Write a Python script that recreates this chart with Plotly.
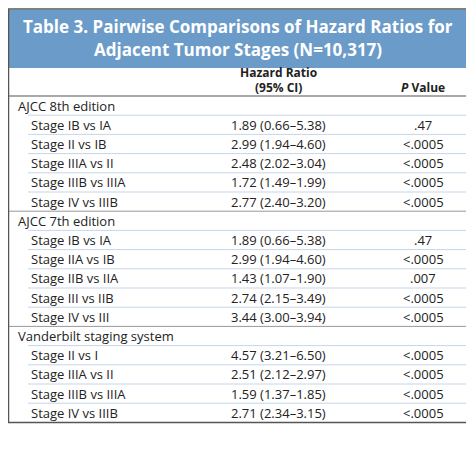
import plotly.graph_objects as go

# данные таблицы
title_lines = ["Table 3. Pairwise Comparisons of Hazard Ratios for", "Adjacent Tumor Stages (N=10,317)"]
groups = ["AJCC 8th edition", "AJCC 7th edition", "Vanderbilt staging system"]
comparisons = [
    ["Stage IB vs IA", "Stage II vs IB", "Stage IIIA vs II", "Stage IIIB vs IIIA", "Stage IV vs IIIB"],
    ["Stage IB vs IA", "Stage IIA vs IB", "Stage IIB vs IIA", "Stage III vs IIB", "Stage IV vs III"],
    ["Stage II vs I", "Stage IIIA vs II", "Stage IIIB vs IIIA", "Stage IV vs IIIB"],
]
hazard_ratios = [
    ["1.89 (0.66–5.38)", "2.99 (1.94–4.60)", "2.48 (2.02–3.04)", "1.72 (1.49–1.99)", "2.77 (2.40–3.20)"],
    ["1.89 (0.66–5.38)", "2.99 (1.94–4.60)", "1.43 (1.07–1.90)", "2.74 (2.15–3.49)", "3.44 (3.00–3.94)"],
    ["4.57 (3.21–6.50)", "2.51 (2.12–2.97)", "1.59 (1.37–1.85)", "2.71 (2.34–3.15)"],
]
p_values = [
    [".47", "<.0005", "<.0005", "<.0005", "<.0005"],
    [".47", "<.0005", ".007", "<.0005", "<.0005"],
    ["<.0005", "<.0005", "<.0005", "<.0005"],
]

W, H = 474, 450
FONT = "Open Sans"
fig = go.Figure()
shapes = []
ann = []

# заголовок
shapes.append(dict(type="rect", x0=0, x1=461, y0=2, y1=60, fillcolor="#6b9bc9", line_width=0))
ann.append(dict(x=230, y=18, text="<b>" + title_lines[0] + "</b>", font=dict(size=17, color="white", family=FONT)))
ann.append(dict(x=230, y=41, text="<b>" + title_lines[1] + "</b>", font=dict(size=17, color="white", family=FONT)))
ann.append(dict(x=270, y=64, text="<b>Hazard Ratio</b>", font=dict(size=12, color="#222", family=FONT)))
ann.append(dict(x=270, y=79, text="<b>(95% CI)</b>", font=dict(size=12, color="#222", family=FONT)))
ann.append(dict(x=415, y=79, text="<b><i>P</i> Value</b>", font=dict(size=12, color="#222", family=FONT)))
shapes.append(dict(type="line", x0=0, x1=461, y0=88, y1=88, line=dict(color="#555", width=1.2)))

y = 88
step = 19.2
tf = dict(size=13, color="#222", family=FONT)
for gi, g in enumerate(groups):
    if gi > 0:
        shapes.append(dict(type="line", x0=0, x1=461, y0=y, y1=y, line=dict(color="#999", width=1)))
    ann.append(dict(x=8, y=y + step / 2, text=g, xanchor="left", font=tf))
    y += step
    for name, hr, p in zip(comparisons[gi], hazard_ratios[gi], p_values[gi]):
        shapes.append(dict(type="line", x0=20, x1=461, y0=y, y1=y, line=dict(color="#c5d6ea", width=1)))
        ann.append(dict(x=21, y=y + step / 2, text=name, xanchor="left", font=tf))
        ann.append(dict(x=270, y=y + step / 2, text=hr, font=tf))
        ann.append(dict(x=415, y=y + step / 2, text=p, font=tf))
        y += step

# рамка
shapes.append(dict(type="rect", x0=0.5, x1=461, y0=1, y1=y, line=dict(color="#555", width=1.5)))

for a in ann:
    a.update(xref="x", yref="y", showarrow=False)
    a.setdefault("xanchor", "center")
fig.update_layout(
    width=W, height=H, margin=dict(l=0, r=0, t=0, b=0),
    plot_bgcolor="white", paper_bgcolor="white",
    xaxis=dict(range=[0, W], visible=False, fixedrange=True),
    yaxis=dict(range=[H, 0], visible=False, fixedrange=True),
    shapes=shapes, annotations=ann, showlegend=False,
)
fig.write_html("out.html")
